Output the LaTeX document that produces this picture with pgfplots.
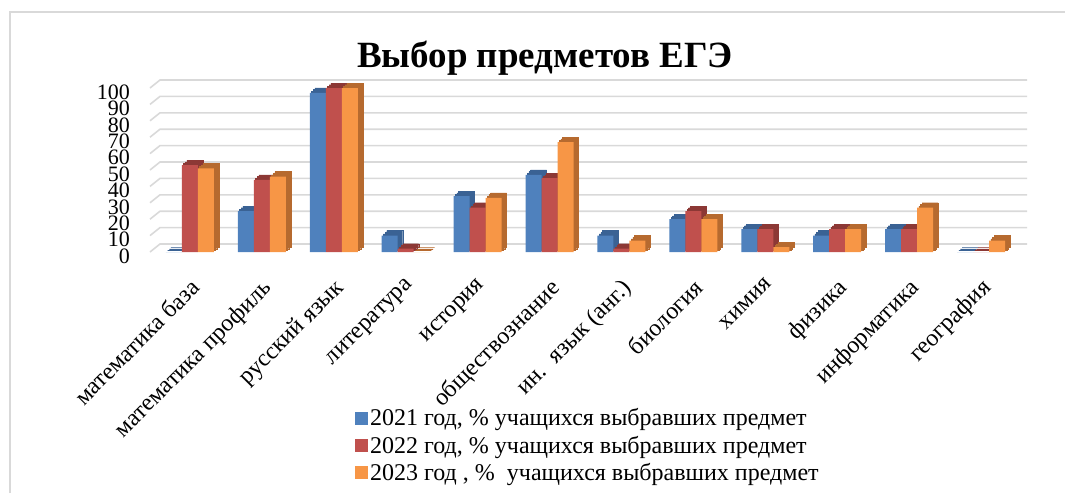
\documentclass[border=0pt]{standalone}
\usepackage{fontspec}
\setmainfont{Liberation Serif}
\usepackage{pgfplots}
\usepackage{pgfplotstable}
\pgfplotsset{compat=1.18}

\definecolor{c21}{HTML}{4F81BD}
\definecolor{c21d}{HTML}{3A6294}
\definecolor{c22}{HTML}{C0504D}
\definecolor{c22d}{HTML}{8C3835}
\definecolor{c23}{HTML}{F79646}
\definecolor{c23d}{HTML}{B66A2F}
\definecolor{gridc}{HTML}{D9D9D9}

% percent of pupils choosing each subject
\pgfplotstableread{
x y21 y22 y23
0 0 53 51
1 25 44 46
2 97 100 100
3 10 2 0
4 34 27 33
5 47 45 67
6 10 2 7
7 20 25 20
8 14 14 3
9 10 14 14
10 14 14 27
11 0 0 7
}\ege

\newcommand{\fs}[1]{\fontsize{#1}{#1}\selectfont}
% depth of a 3d bar: copies of the bar, shifted back and up
\pgfplotsset{depth/.style={ybar, bar width=16pt, fill=#1, draw=#1, line width=0.4pt, forget plot}}

\begin{document}
\begin{tikzpicture}
\begin{axis}[
  at={(154pt,-252pt)}, anchor=south west,
  scale only axis, width=863pt, height=164pt,
  xmin=-0.5, xmax=11.5, ymin=0, ymax=100,
  clip=false, set layers,
  axis line style={draw=none},
  major tick length=0pt,
  ytick={0,10,...,100},
  xtick={0,...,11},
  xticklabels={математика база, математика профиль, русский язык, литература,
    история, обществознание, {ин.\ \ язык (анг.)}, биология, химия, физика,
    информатика, география},
  /pgf/number format/assume math mode=true,
  yticklabel style={font=\fs{22}, inner sep=0pt, anchor=east, xshift=-24pt, yshift=-4pt},
  xticklabel style={font=\fs{24}, inner sep=0pt, yshift=-25pt, xshift=-1pt, rotate=45, anchor=north east},
  legend style={draw=none, fill=none, at={(0.2294,-0.93)}, anchor=north west,
    font=\fs{24}, legend cell align=left, row sep=4.5pt},
  legend image code/.code={\fill[#1] (0pt,-6.5pt) rectangle (13pt,6.5pt);},
]
\begin{pgfonlayer}{axis background}
\pgfplotsinvokeforeach{0,10,...,100}{
  \draw[gridc, line width=1.6pt] ([xshift=-4pt]axis cs:-0.5,#1) -- ++(10pt,8pt)
    -- ([xshift=10pt,yshift=8pt]axis cs:11.5,#1);
}
\end{pgfonlayer}

\pgfplotsinvokeforeach{1.7,3.3,5}{
  \addplot[depth=c21d, bar shift=-16pt, xshift=#1pt, yshift=#1pt] table[x=x, y=y21] {\ege};}
\addplot[ybar, bar width=16pt, bar shift=-16pt, fill=c21, draw=none] table[x=x, y=y21] {\ege};
\addlegendentry{2021 год, \% учащихся выбравших предмет}

\pgfplotsinvokeforeach{1.7,3.3,5}{
  \addplot[depth=c22d, bar shift=0pt, xshift=#1pt, yshift=#1pt] table[x=x, y=y22] {\ege};}
\addplot[ybar, bar width=16pt, bar shift=0pt, fill=c22, draw=none] table[x=x, y=y22] {\ege};
\addlegendentry{2022 год, \% учащихся выбравших предмет}

\pgfplotsinvokeforeach{1.7,3.3,5}{
  \addplot[depth=c23d, bar shift=16pt, xshift=#1pt, yshift=#1pt] table[x=x, y=y23] {\ege};}
\addplot[ybar, bar width=16pt, bar shift=16pt, fill=c23, draw=none] table[x=x, y=y23] {\ege};
\addlegendentry{2023 год , \%\ \ учащихся выбравших предмет}
\end{axis}

\node[anchor=base, font=\fs{37}\bfseries] at (545pt,-67pt) {Выбор предметов ЕГЭ};
\draw[gridc, line width=1.5pt] (10pt,-493pt) -- (10pt,-12pt) -- (1065pt,-12pt);

\pgfresetboundingbox
\path[use as bounding box] (0pt,0pt) rectangle (1065pt,-493pt);
\end{tikzpicture}
\end{document}
